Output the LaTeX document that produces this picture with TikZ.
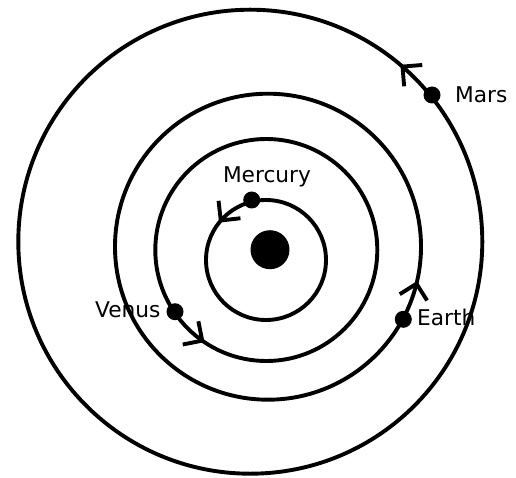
\documentclass[tikz,border=0pt]{standalone}
\usepackage{fontspec}
\setmainfont{DejaVu Sans}
\usetikzlibrary{arrows.meta,decorations.markings}
\begin{document}
\begin{tikzpicture}[x=1pt,y=1pt,
  orbit/.style={line width=3.9pt},
  planet/.style={circle,fill=black,inner sep=0pt,minimum size=17pt},
  sun/.style={circle,fill=black,inner sep=0pt,minimum size=39pt},
  lbl/.style={inner sep=0pt,font=\fontsize{21.7}{26}\selectfont},
  arrowat/.style={postaction={decorate},decoration={markings,mark=at position #1 with {\arrow{Straight Barb[length=14pt,width=28pt,line width=3.9pt]}}}}
]
\useasboundingbox (0,0) rectangle (516,477);
% labels (under the orbits)
\node[lbl,anchor=base] (lmercury) at (267,294.3) {Mercury};
\node[lbl,anchor=base west] (lmars) at (455,374.3) {Mars};
\node[lbl,anchor=base west] (lvenus) at (95,159.5) {Venus};
\node[lbl,anchor=base west] (learth) at (417,152) {Earth};
% orbits
\coordinate (cmercury) at (266,217);
\coordinate (cvenus) at (266.3,227);
\coordinate (cearth) at (268,230.3);
\coordinate (cmars) at (250.3,235.3);
\draw[orbit,arrowat=0.393] (cmercury) circle (60);
\draw[orbit,arrowat=0.656] (cvenus) circle (111);
\draw[orbit,arrowat=0.964] (cearth) circle (153);
\draw[orbit,arrowat=0.138] (cmars) circle (232);
% sun and planets
\node[sun] (sun) at (270,227.3) {};
\node[planet] (mercury) at (251.7,277) {};
\node[planet] (venus) at (175,165.3) {};
\node[planet] (earth) at (403.3,157.7) {};
\node[planet] (mars) at (432,382) {};
\end{tikzpicture}
\end{document}
